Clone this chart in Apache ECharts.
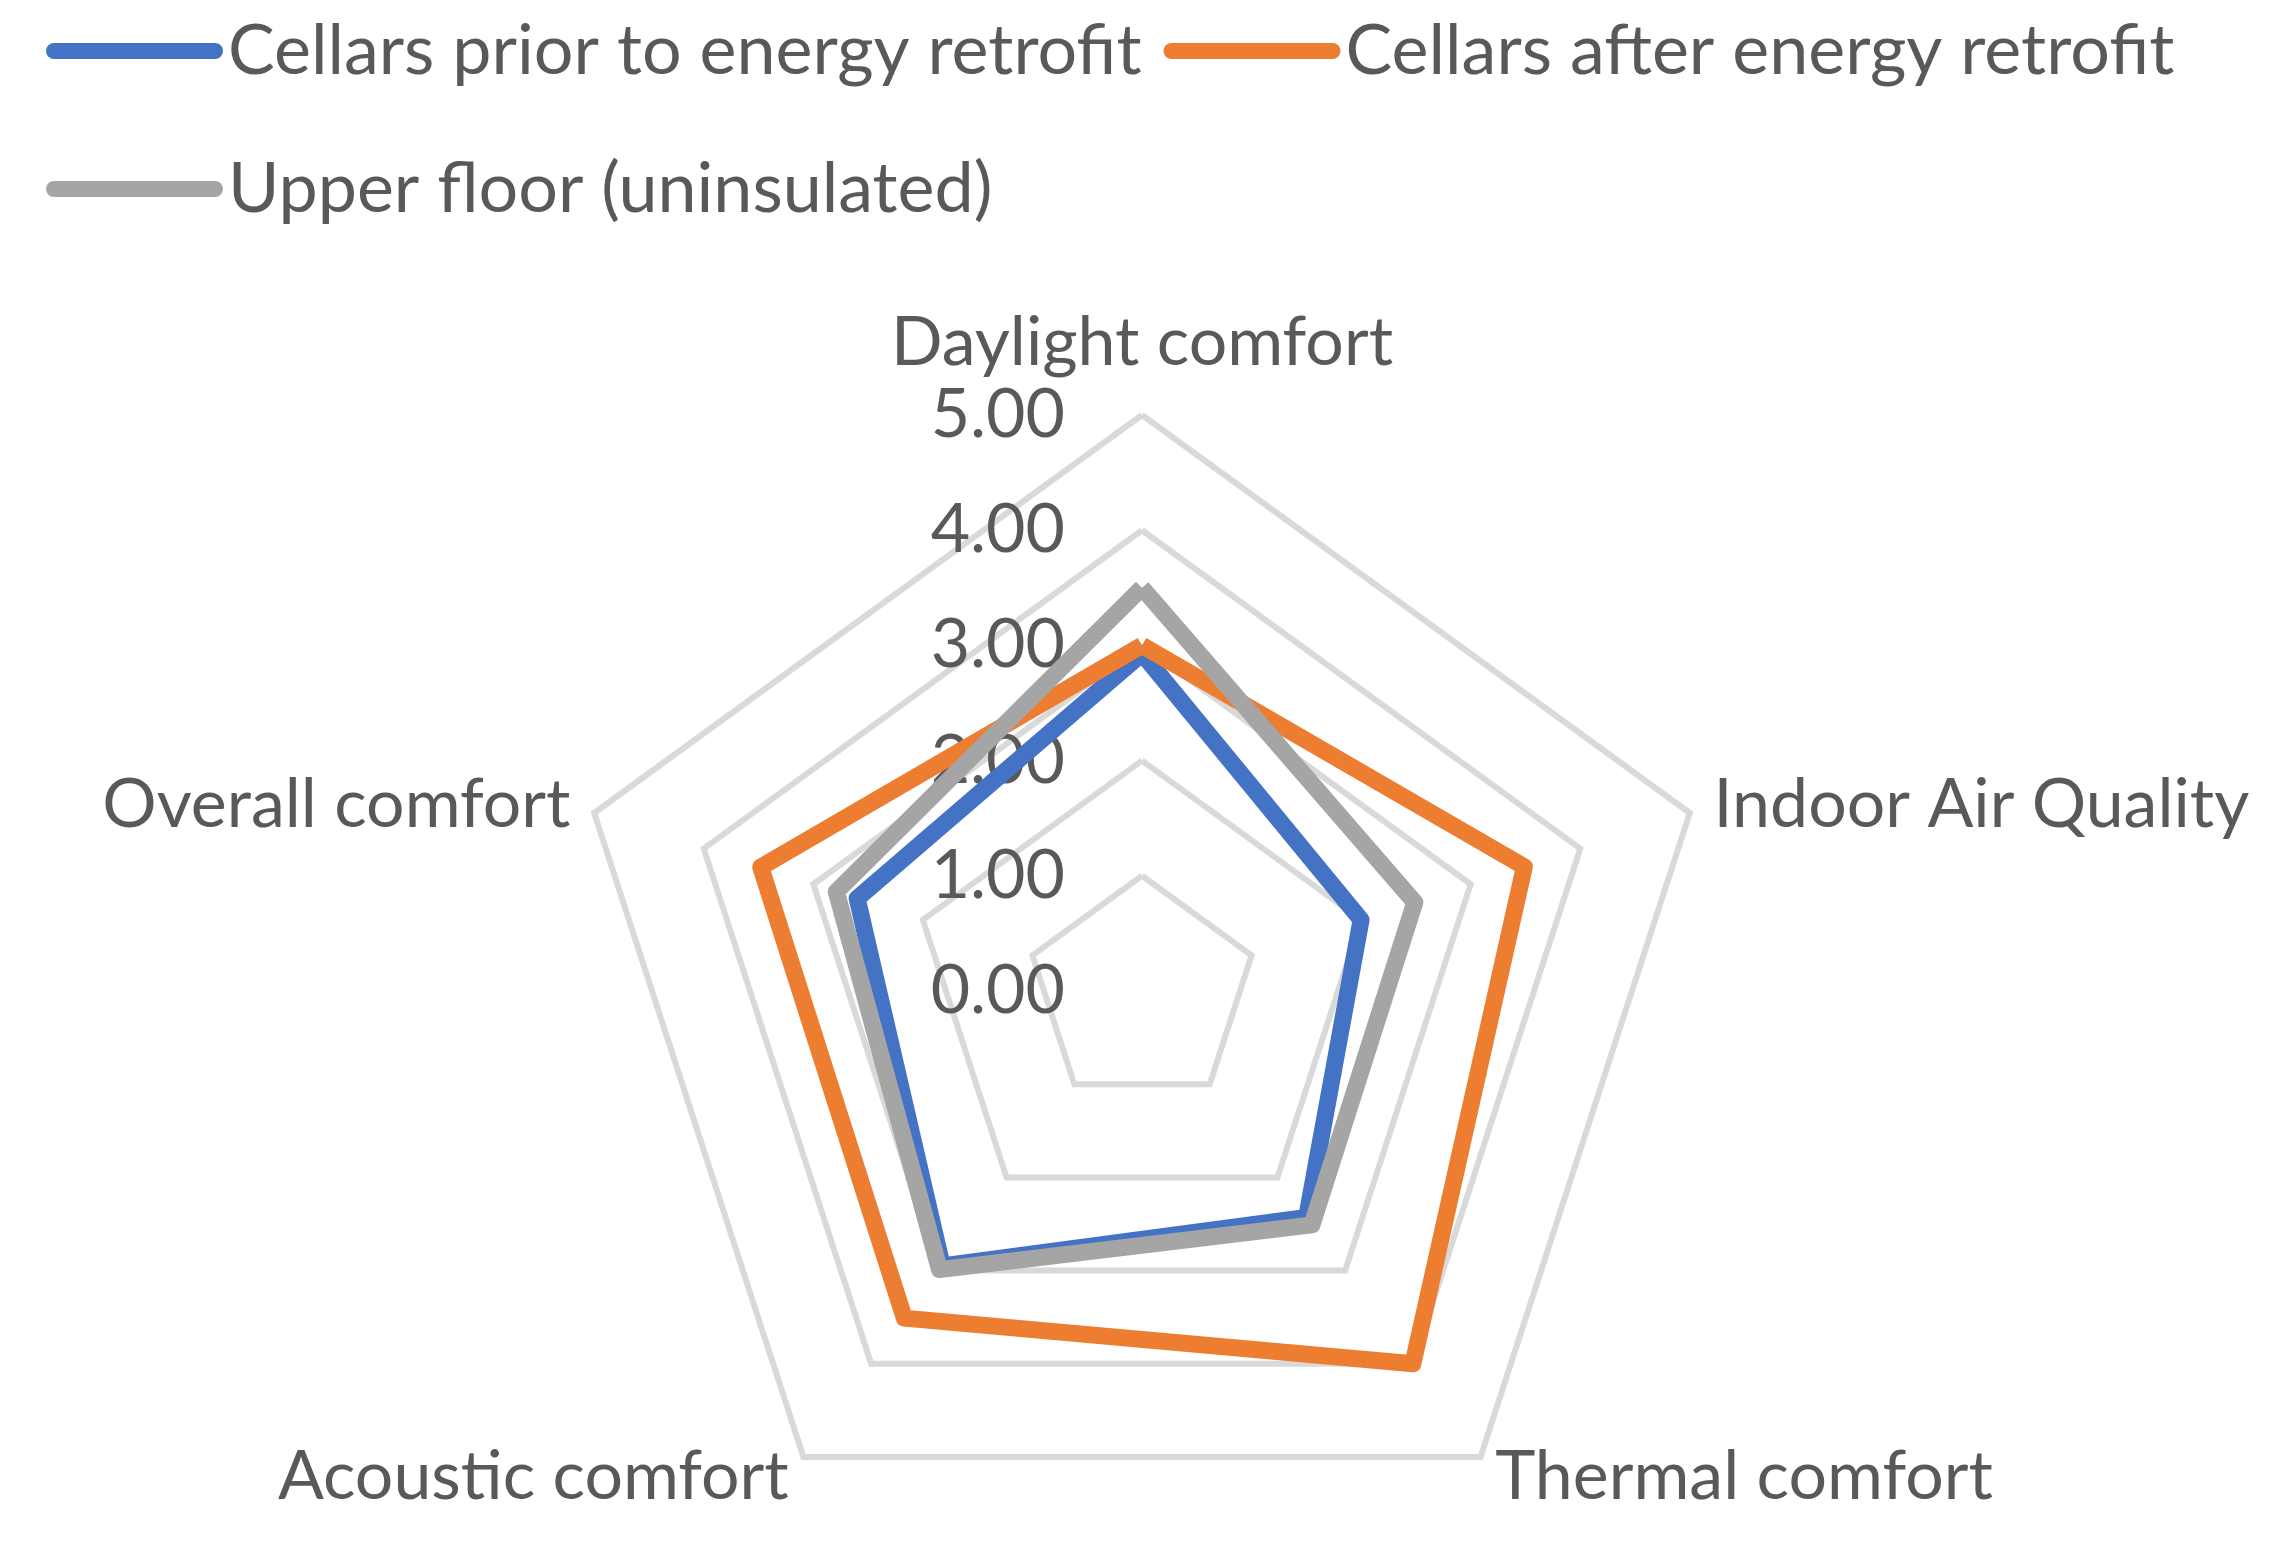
<!DOCTYPE html>
<html>
<head>
<meta charset="utf-8">
<title>Comfort radar</title>
<script src="https://cdn.jsdelivr.net/npm/echarts@6/dist/echarts.min.js"></script>
<style>
  html, body { margin: 0; padding: 0; background: #fff; }
  #eRadar { width: 2281px; height: 1544px; }
</style>
</head>
<body>
<div id="eRadar"></div>
<script>
// categories, clockwise from the top as in the original chart
const categories = ['Daylight comfort', 'Indoor Air Quality', 'Thermal comfort', 'Acoustic comfort', 'Overall comfort'];
const seriesNames = ['Cellars prior to energy retrofit', 'Cellars after energy retrofit', 'Upper floor (uninsulated)'];
const priorValues = [2.93, 2.0, 2.43, 2.95, 2.6];
const afterValues = [3.0, 3.49, 4.0, 3.51, 3.48];
const upperValues = [3.5, 2.49, 2.51, 2.99, 2.79];
const tickMin = 0;
const tickMax = 5;

const colors = ['#4472C4', '#ED7D31', '#A5A5A5'];
const textColor = '#595959';
const font = 'Lato';

// echarts lays indicators out counter-clockwise, so reorder
const order = [0, 4, 3, 2, 1];
const reorder = (arr) => order.map((i) => arr[i]);

let indicator = reorder(categories).map((name, i) => {
  let item = { name: name, min: tickMin, max: tickMax };
  if (i === 0) {
    // only the top axis carries the tick labels
    item.axisLabel = { show: true };
    item.nameTextStyle = { padding: [0, 0, 13, 0] };
  }
  return item;
});

const capsule = 'path://M8,0 H169 A8,8 0 0 1 169,16 H8 A8,8 0 0 1 8,0 Z';
const legendText = { color: textColor, fontSize: 70, fontFamily: font };

let chart = echarts.init(document.getElementById('eRadar'), null, { renderer: 'canvas' });

let options = {
  backgroundColor: '#fff',
  animation: false,
  legend: [
    {
      data: [seriesNames[0], seriesNames[1]],
      left: 46,
      top: 16,
      padding: 0,
      itemGap: 22,
      itemWidth: 177,
      itemHeight: 16,
      icon: capsule,
      itemStyle: { borderWidth: 0 },
      textStyle: legendText
    },
    {
      data: [seriesNames[2]],
      left: 46,
      top: 154,
      padding: 0,
      itemWidth: 177,
      itemHeight: 16,
      icon: capsule,
      itemStyle: { borderWidth: 0 },
      textStyle: legendText
    }
  ],
  radar: {
    center: [1142, 991],
    radius: 576,
    startAngle: 90,
    shape: 'polygon',
    splitNumber: 5,
    indicator: indicator,
    nameGap: 25,
    axisName: { color: textColor, fontSize: 68, fontFamily: font },
    axisLine: { show: false },
    axisTick: { show: false },
    axisLabel: {
      show: false,
      margin: 77,
      color: textColor,
      fontSize: 68,
      fontFamily: font,
      showMinLabel: true,
      showMaxLabel: true,
      formatter: (v) => v.toFixed(2)
    },
    splitLine: { lineStyle: { color: '#D9D9D9', width: 6 } },
    splitArea: { show: false }
  },
  series: [
    {
      type: 'radar',
      symbol: 'none',
      data: [
        { name: seriesNames[0], value: reorder(priorValues) },
        { name: seriesNames[1], value: reorder(afterValues) },
        { name: seriesNames[2], value: reorder(upperValues) }
      ].map((d, i) => Object.assign(d, {
        itemStyle: { color: colors[i] },
        lineStyle: { color: colors[i], width: 17, join: 'round' }
      }))
    }
  ]
};

chart.setOption(options);
</script>
</body>
</html>
